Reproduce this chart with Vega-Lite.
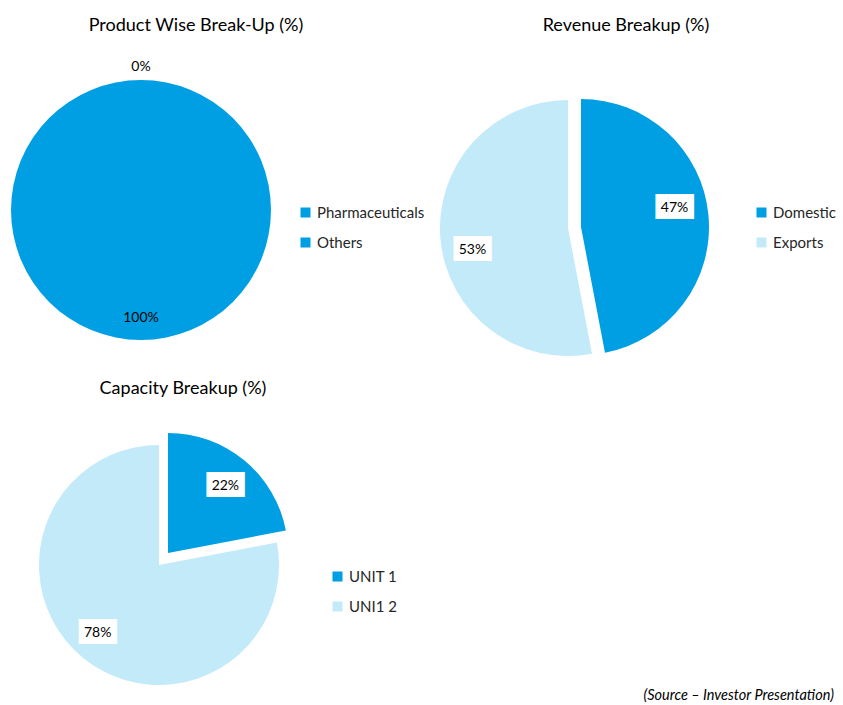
{
  "$schema": "https://vega.github.io/schema/vega-lite/v6.json",
  "background": "white",
  "padding": {"left": 11, "top": 17, "right": 5, "bottom": 2},
  "title": {"text": "(Source – Investor Presentation)", "orient": "bottom", "anchor": "end", "fontStyle": "italic", "fontSize": 14.5, "fontWeight": "normal", "font": "Lato", "color": "#000000", "offset": 4, "dx": -2},
  "bounds": "flush",
  "columns": 2,
  "spacing": {"row": 69, "column": 133},
  "resolve": {"scale": {"color": "independent", "theta": "independent"}, "legend": {"color": "independent"}},
  "concat": [
    {
      "width": 260, "height": 260,
      "title": {"text": "Product Wise Break-Up (%)", "frame": "group", "anchor": "middle", "dx": 55, "offset": 25},
      "data": {"values": [{"cat": "Pharmaceuticals", "share": 1.0}, {"cat": "Others", "share": 0}]},
      "encoding": {
        "theta": {"field": "share", "type": "quantitative", "stack": true},
        "order": {"field": "share", "sort": "ascending"}
      },
      "layer": [
        {"mark": {"type": "arc", "radius": 130},
         "encoding": {"color": {"field": "cat", "type": "nominal", "scale": {"domain": ["Pharmaceuticals", "Others"], "range": ["#009FE3", "#009FE3"]}, "legend": {"title": null, "orient": "none", "legendX": 287, "legendY": 125}}}},
        {"mark": {"type": "text", "radius": 108, "fontSize": 14, "font": "Lato", "color": "#000000"},
         "encoding": {"detail": {"field": "cat", "type": "nominal"}, "text": {"field": "share", "format": ".0%"}, "opacity": {"condition": {"test": "datum.cat === 'Pharmaceuticals'", "value": 1}, "value": 0}}},
        {"mark": {"type": "text", "radius": 143, "fontSize": 14, "font": "Lato", "color": "#000000"},
         "encoding": {"detail": {"field": "cat", "type": "nominal"}, "text": {"field": "share", "format": ".0%"}, "opacity": {"condition": {"test": "datum.cat === 'Others'", "value": 1}, "value": 0}}}
      ]
    },
    {
      "width": 256, "height": 296,
      "title": {"text": "Revenue Breakup (%)", "frame": "group", "anchor": "middle", "dx": 58, "offset": 45},
      "data": {"values": [{"cat": "Domestic", "share": 0.47}, {"cat": "Exports", "share": 0.53}]},
      "encoding": {
        "theta": {"field": "share", "type": "quantitative", "stack": true},
        "order": {"field": "share", "sort": "ascending"}
      },
      "layer": [
        {"mark": {"type": "arc", "radius": 128},
         "encoding": {"color": {"field": "cat", "type": "nominal", "scale": {"domain": ["Domestic", "Exports"], "range": ["#009FE3", "#C3EAF9"]}, "legend": {"title": null, "orient": "none", "legendX": 314, "legendY": 125}},
                      "opacity": {"condition": {"test": "datum.cat === 'Exports'", "value": 1}, "value": 0}}},
        {"mark": {"type": "arc", "radius": 128, "xOffset": 13, "yOffset": -1, "color": "#009FE3"},
         "encoding": {"detail": {"field": "cat", "type": "nominal"}, "opacity": {"condition": {"test": "datum.cat === 'Domestic'", "value": 1}, "value": 0}}},
        {"mark": {"type": "text", "text": "███", "font": "DejaVu Sans Mono", "fontSize": 21, "color": "#FFFFFF", "radius": 96, "xOffset": 11, "yOffset": -11},
         "encoding": {"detail": {"field": "cat", "type": "nominal"}, "opacity": {"condition": {"test": "datum.cat === 'Domestic'", "value": 1}, "value": 0}}},
        {"mark": {"type": "text", "fontSize": 14, "font": "Lato", "color": "#000000", "radius": 96, "xOffset": 11, "yOffset": -11},
         "encoding": {"detail": {"field": "cat", "type": "nominal"}, "text": {"field": "share", "format": ".0%"}, "opacity": {"condition": {"test": "datum.cat === 'Domestic'", "value": 1}, "value": 0}}},
        {"mark": {"type": "text", "text": "███", "font": "DejaVu Sans Mono", "fontSize": 21, "color": "#FFFFFF", "radius": 96, "xOffset": 0, "yOffset": 13},
         "encoding": {"detail": {"field": "cat", "type": "nominal"}, "opacity": {"condition": {"test": "datum.cat === 'Exports'", "value": 1}, "value": 0}}},
        {"mark": {"type": "text", "fontSize": 14, "font": "Lato", "color": "#000000", "radius": 96, "xOffset": 0, "yOffset": 13},
         "encoding": {"detail": {"field": "cat", "type": "nominal"}, "text": {"field": "share", "format": ".0%"}, "opacity": {"condition": {"test": "datum.cat === 'Exports'", "value": 1}, "value": 0}}}
      ]
    },
    {
      "width": 296, "height": 240,
      "title": {"text": "Capacity Breakup (%)", "frame": "group", "anchor": "middle", "dx": 24, "offset": 35},
      "data": {"values": [{"cat": "UNIT 1", "share": 0.22}, {"cat": "UNI1 2", "share": 0.78}]},
      "encoding": {
        "theta": {"field": "share", "type": "quantitative", "stack": true},
        "order": {"field": "share", "sort": "ascending"}
      },
      "layer": [
        {"mark": {"type": "arc", "radius": 120},
         "encoding": {"color": {"field": "cat", "type": "nominal", "scale": {"domain": ["UNIT 1", "UNI1 2"], "range": ["#009FE3", "#C3EAF9"]}, "legend": {"title": null, "orient": "none", "legendX": 319, "legendY": 124}},
                      "opacity": {"condition": {"test": "datum.cat === 'UNI1 2'", "value": 1}, "value": 0}}},
        {"mark": {"type": "arc", "radius": 120, "xOffset": 9, "yOffset": -12, "color": "#009FE3"},
         "encoding": {"detail": {"field": "cat", "type": "nominal"}, "opacity": {"condition": {"test": "datum.cat === 'UNIT 1'", "value": 1}, "value": 0}}},
        {"mark": {"type": "text", "text": "███", "font": "DejaVu Sans Mono", "fontSize": 21, "color": "#FFFFFF", "radius": 90, "xOffset": 9, "yOffset": -10},
         "encoding": {"detail": {"field": "cat", "type": "nominal"}, "opacity": {"condition": {"test": "datum.cat === 'UNIT 1'", "value": 1}, "value": 0}}},
        {"mark": {"type": "text", "fontSize": 14, "font": "Lato", "color": "#000000", "radius": 90, "xOffset": 9, "yOffset": -10},
         "encoding": {"detail": {"field": "cat", "type": "nominal"}, "text": {"field": "share", "format": ".0%"}, "opacity": {"condition": {"test": "datum.cat === 'UNIT 1'", "value": 1}, "value": 0}}},
        {"mark": {"type": "text", "text": "███", "font": "DejaVu Sans Mono", "fontSize": 21, "color": "#FFFFFF", "radius": 90, "xOffset": -4, "yOffset": -1},
         "encoding": {"detail": {"field": "cat", "type": "nominal"}, "opacity": {"condition": {"test": "datum.cat === 'UNI1 2'", "value": 1}, "value": 0}}},
        {"mark": {"type": "text", "fontSize": 14, "font": "Lato", "color": "#000000", "radius": 90, "xOffset": -4, "yOffset": -1},
         "encoding": {"detail": {"field": "cat", "type": "nominal"}, "text": {"field": "share", "format": ".0%"}, "opacity": {"condition": {"test": "datum.cat === 'UNI1 2'", "value": 1}, "value": 0}}}
      ]
    }
  ],
  "config": {
    "view": {"stroke": null},
    "font": "Lato",
    "title": {"font": "Lato", "fontSize": 18, "fontWeight": "normal", "color": "#000000"},
    "legend": {"symbolType": "square", "symbolSize": 100, "symbolStrokeWidth": 0, "symbolOpacity": 1, "labelFont": "Lato", "labelFontSize": 15, "labelColor": "#262626", "labelOffset": 4, "rowPadding": 14, "padding": 0}
  }
}
